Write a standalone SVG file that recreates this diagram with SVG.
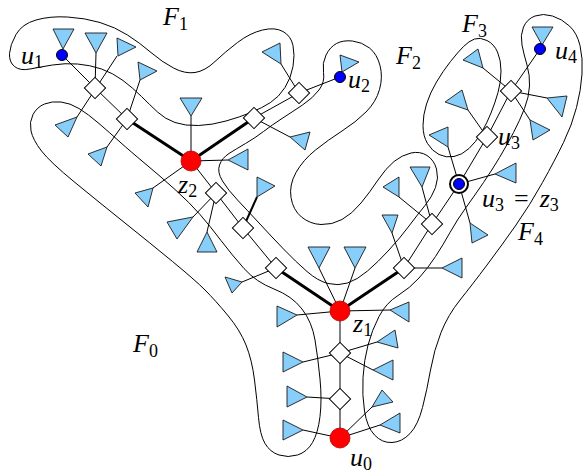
<svg xmlns="http://www.w3.org/2000/svg" xmlns:xlink="http://www.w3.org/1999/xlink" width="584" height="476" viewBox="0 0 584 476">
<style>
.face{fill:none;stroke:#000;stroke-width:1}
.e{stroke:#000;stroke-width:1;fill:none}
.t{stroke:#000;stroke-width:3;fill:none}
.tri{fill:#87cefa;stroke:#1a1a1a;stroke-width:0.9;stroke-linejoin:miter}
.dia{fill:#fff;stroke:#000;stroke-width:1}
.red{fill:#ff0000;stroke:#b00000;stroke-width:0.8}
.blue{fill:#0000ff;stroke:#000;stroke-width:1}
.lab{font-family:"Liberation Serif","DejaVu Serif",serif;font-style:italic;font-size:26px;fill:#000}
.sub{font-style:normal;font-size:18px}
.up{font-style:normal}
</style>
<defs>
<rect id="dia" class="dia" x="-7.5" y="-7.5" width="15" height="15" transform="rotate(45)"/>
</defs>
<g id="faces">
<path id="F1" class="face" d="M9.5,53.5 Q10,45 16,34.5 Q22,24 36,20 Q50,16 67.5,17 Q85,18 100,22.5 Q115,27 127.5,35 Q140,43 151,52.5 Q162,62 173.5,68 Q185,74 195,72.5 Q205,71 215,61.5 Q225,52 237.5,42.5 Q250,33 262.5,30 Q275,27 283,31.5 Q291,36 293,45.5 Q295,55 293,66.5 Q291,78 285,87.5 Q279,97 270.5,102.5 Q262,108 251,112.5 Q240,117 226,121 Q212,125 198.5,125.5 Q185,126 175,122.5 Q165,119 157.5,112 Q150,105 141.5,96.5 Q133,88 123,80.5 Q113,73 101.5,69 Q90,65 77.5,64 Q65,63 52.5,65 Q40,67 30,69 Q20,71 14.5,66.5 Q9,62 9.5,53.5 Z"/>
<path id="F2" class="face" d="M336.5,43.5 Q343,40 352.5,41 Q362,42 369.5,48 Q377,54 380,65.5 Q383,77 379.5,89.5 Q376,102 366,112 Q356,122 342,131 Q328,140 315.5,150 Q303,160 296,172.5 Q289,185 291,197.5 Q293,210 301.5,217 Q310,224 321,224.5 Q332,225 342,219.5 Q352,214 361,203 Q370,192 378,180 Q386,168 394,161.5 Q402,155 411,153 Q420,151 427,155.5 Q434,160 436.5,169 Q439,178 435.5,187.5 Q432,197 425,205.5 Q418,214 409,226 Q400,238 389,250 Q378,262 367.5,271 Q357,280 347.5,283 Q338,286 328,283.5 Q318,281 307,271.5 Q296,262 283.5,249 Q271,236 259,223 Q247,210 237.5,200 Q228,190 222.5,181 Q217,172 219.5,165 Q222,158 229,153.5 Q236,149 245.5,143.5 Q255,138 263.5,131.5 Q272,125 282,118.5 Q292,112 302.5,105 Q313,98 319,90 Q325,82 323.5,72.5 Q322,63 326,55 Q330,47 336.5,43.5 Z"/>
<path id="F3" class="face" d="M474.5,39 Q480,37 487,40.5 Q494,44 497.5,52 Q501,60 501,71 Q501,82 498,92.5 Q495,103 491,113 Q487,123 481.5,132.5 Q476,142 469,148.5 Q462,155 454,156.5 Q446,158 439,154.5 Q432,151 427.5,143.5 Q423,136 423,125.5 Q423,115 426.5,104 Q430,93 436.5,82 Q443,71 450.5,61.5 Q458,52 463.5,46.5 Q469,41 474.5,39 Z"/>
<path id="F4" class="face" d="M535,16 Q543,13 552.5,16 Q562,19 569.5,26 Q577,33 580,45.5 Q583,58 582,74 Q581,90 576.5,107.5 Q572,125 563.5,142.5 Q555,160 542.5,182.5 Q530,205 516,225 Q502,245 487,265 Q472,285 460,300 Q448,315 441,332.5 Q434,350 430.5,370 Q427,390 422.5,407.5 Q418,425 410,433.5 Q402,442 392,442.5 Q382,443 374.5,435 Q367,427 364.5,411 Q362,395 363,377.5 Q364,360 368,345 Q372,330 379,316.5 Q386,303 398,295.5 Q410,288 419,278 Q428,268 435.5,256.5 Q443,245 450,232.5 Q457,220 466,207.5 Q475,195 483.5,182.5 Q492,170 499.5,157.5 Q507,145 513.5,132.5 Q520,120 524.5,108.5 Q529,97 529.5,86 Q530,75 527,65 Q524,55 522,45 Q520,35 523.5,27 Q527,19 535,16 Z"/>
<path id="F0" class="face" d="M31,131 Q29,122 33,114.5 Q37,107 44.5,104 Q52,101 61,102 Q70,103 79,108.5 Q88,114 99,123.5 Q110,133 120,142 Q130,151 145,163.5 Q160,176 175,189.5 Q190,203 200,214.5 Q210,226 221,240.5 Q232,255 244,268.5 Q256,282 274,289 Q292,296 302,309 Q312,322 315,340 Q318,358 320,379 Q322,400 320,416.5 Q318,433 312.5,442.5 Q307,452 297.5,455 Q288,458 279,455 Q270,452 265,443.5 Q260,435 258.5,417.5 Q257,400 254.5,380 Q252,360 246,345 Q240,330 227.5,315 Q215,300 205,290 Q195,280 172.5,261.5 Q150,243 125,223 Q100,203 75,182.5 Q50,162 41.5,151 Q33,140 31,131 Z"/>
</g>
<g id="connectors">
<path class="e" d="M62,55 L95,88 L127,119"/>
<path class="t" d="M127,119 L191,161 L254,118"/>
<path class="e" d="M254,118 L299,93 L340,77"/>
<path class="e" d="M191,161 L216,193 L243,228 L276,268"/>
<path class="t" d="M276,268 L340,311 L404,268"/>
<path class="e" d="M404,268 L432,224 L459,184 L487,137 L511,91 L540,49"/>
<path class="e" d="M340,311 L340,353 L340,399 L340,438"/>
<path class="e" d="M95,88 L96,53 M117,56 L77,117 M127,119 L140,80 M127,119 L107,147 M191,161 L191,116 M299,93 L281,64 M254,118 L290,137 M191,161 L228,160 M191,161 L153,188 M216,193 L193,217 M216,193 L207,232 M276,268 L242,282"/>
<path class="e" style="stroke-width:2" d="M243,228 L257,197"/>
<path class="e" d="M340,311 L319,268 M340,311 L355,268 M404,268 L392,233 M432,224 L399,197 M432,224 L422,187 M404,268 L442,268 M459,184 L495,174 M459,184 L470,223 M511,91 L483,68 M511,91 L547,98 M511,91 L530,120 M487,137 L468,110 M459,184 L448,147"/>
<path class="e" d="M340,311 L297,315 M340,311 L390,310 M340,353 L377,342 M340,353 L303,362 M340,353 L373,370 M340,399 L307,397 M340,438 L372,407 M340,438 L380,425 M340,438 L303,430"/>
</g>
<g id="subtrees">
<polygon id="T1" class="tri" points="53,29 74,29 63,49"/>
<polygon id="T2" class="tri" points="85,33 107,33 96,53"/>
<polygon id="T3" class="tri" points="118,56 136,47 117,38"/>
<polygon id="T4" class="tri" points="140,80 138,62 157,71"/>
<polygon id="T5" class="tri" points="77,117 55,125 68,137"/>
<polygon id="T6" class="tri" points="107,147 88,154 101,166"/>
<polygon id="T7" class="tri" points="180,98 202,98 191,116"/>
<polygon id="T8" class="tri" points="281,64 262,52 280,43"/>
<polygon id="T9" class="tri" points="342,72 340,55 359,62"/>
<polygon id="T10" class="tri" points="290,137 310,132 305,150"/>
<polygon id="T11" class="tri" points="228,160 248,149 248,170"/>
<polygon id="T12" class="tri" points="153,188 135,193 148,207"/>
<polygon id="T13" class="tri" points="193,217 167,222 177,239"/>
<polygon id="T14" class="tri" points="207,232 197,252 217,252"/>
<polygon id="T15" class="tri" points="257,197 257,177 275,186"/>
<polygon id="T16" class="tri" points="242,282 225,277 232,293"/>
<polygon id="T17" class="tri" points="308,247 330,247 319,268"/>
<polygon id="T18" class="tri" points="344,247 366,247 355,268"/>
<polygon id="T19" class="tri" points="382,215 398,215 392,233"/>
<polygon id="T20" class="tri" points="399,197 383,187 399,177"/>
<polygon id="T21" class="tri" points="410,167 430,167 422,187"/>
<polygon id="T23" class="tri" points="442,268 462,258 462,278"/>
<polygon id="T24" class="tri" points="495,174 516,163 516,183"/>
<polygon id="T25" class="tri" points="470,223 488,235 472,243"/>
<polygon id="T26" class="tri" points="483,68 463,60 478,49"/>
<polygon id="T27" class="tri" points="532,27 553,27 542,45"/>
<polygon id="T28" class="tri" points="547,98 567,96 562,117"/>
<polygon id="T29" class="tri" points="530,120 550,130 533,140"/>
<polygon id="T30" class="tri" points="468,110 445,102 462,90"/>
<polygon id="T31" class="tri" points="448,147 429,135 448,127"/>
<polygon id="T32" class="tri" points="297,315 277,306 277,327"/>
<polygon id="T33" class="tri" points="390,310 409,302 409,322"/>
<polygon id="T34" class="tri" points="377,342 395,330 398,348"/>
<polygon id="T35" class="tri" points="303,362 283,352 283,372"/>
<polygon id="T36" class="tri" points="373,370 393,360 393,380"/>
<polygon id="T37" class="tri" points="307,397 287,386 287,407"/>
<polygon id="T38" class="tri" points="372,407 382,390 393,402"/>
<polygon id="T39" class="tri" points="380,425 400,413 400,433"/>
<polygon id="T40" class="tri" points="303,430 283,420 283,440"/>
</g>
<g id="d1"><use xlink:href="#dia" x="95" y="88"/></g>
<g id="d2"><use xlink:href="#dia" x="127" y="119"/></g>
<g id="d3"><use xlink:href="#dia" x="299" y="93"/></g>
<g id="d4"><use xlink:href="#dia" x="254" y="118"/></g>
<g id="d5"><use xlink:href="#dia" x="216" y="193"/></g>
<g id="d6"><use xlink:href="#dia" x="243" y="228"/></g>
<g id="d7"><use xlink:href="#dia" x="276" y="268"/></g>
<g id="d8"><use xlink:href="#dia" x="404" y="268"/></g>
<g id="d9"><use xlink:href="#dia" x="432" y="224"/></g>
<g id="d10"><use xlink:href="#dia" x="487" y="137"/></g>
<g id="d11"><use xlink:href="#dia" x="511" y="91"/></g>
<g id="d12"><use xlink:href="#dia" x="340" y="353"/></g>
<g id="d13"><use xlink:href="#dia" x="340" y="399"/></g>
<g id="z2"><circle class="red" cx="191" cy="161" r="10"/></g>
<g id="z1"><circle class="red" cx="340" cy="311" r="10"/></g>
<g id="u0"><circle class="red" cx="340" cy="438" r="10"/></g>
<g id="u1"><circle class="blue" cx="62" cy="55" r="5.5"/></g>
<g id="u2"><circle class="blue" cx="340" cy="77" r="5.5"/></g>
<g id="u4"><circle class="blue" cx="540" cy="49" r="5.5"/></g>
<g id="u3"><circle cx="459" cy="184" r="9" fill="#fff" stroke="#000" stroke-width="2"/><circle class="blue" cx="459" cy="184" r="5.5"/></g>
<g id="labels">
<text class="lab" x="163" y="25">F<tspan class="sub" dy="5">1</tspan></text>
<text class="lab" x="396" y="64">F<tspan class="sub" dy="5">2</tspan></text>
<text class="lab" x="462" y="32">F<tspan class="sub" dy="5">3</tspan></text>
<text class="lab" x="518" y="240">F<tspan class="sub" dy="5">4</tspan></text>
<text class="lab" x="133" y="352">F<tspan class="sub" dy="5">0</tspan></text>
<text class="lab" x="21" y="64">u<tspan class="sub" dy="4">1</tspan></text>
<text class="lab" x="348" y="88">u<tspan class="sub" dy="4">2</tspan></text>
<text class="lab" x="555" y="59">u<tspan class="sub" dy="4">4</tspan></text>
<text class="lab" x="498" y="145">u<tspan class="sub" dy="4">3</tspan></text>
<text class="lab" x="482" y="207">u<tspan class="sub" dy="4">3</tspan><tspan class="up" dx="10" dy="-4">=</tspan><tspan dx="11">z</tspan><tspan class="sub" dy="4">3</tspan></text>
<text class="lab" x="178" y="193">z<tspan class="sub" dy="4">2</tspan></text>
<text class="lab" x="353" y="332">z<tspan class="sub" dy="4">1</tspan></text>
<text class="lab" x="350" y="466">u<tspan class="sub" dy="4">0</tspan></text>
</g>
</svg>
